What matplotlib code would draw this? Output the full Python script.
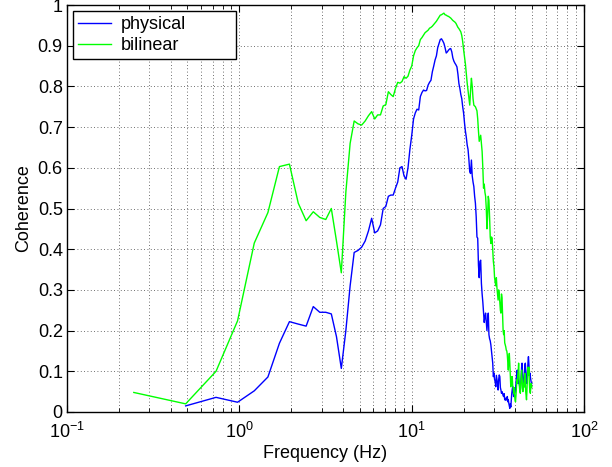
import numpy as np
from matplotlib import pyplot as plt

plt.rcParams['font.family'] = ['Liberation Sans', 'DejaVu Sans']
plt.rcParams['mathtext.fontset'] = 'custom'
plt.rcParams['mathtext.rm'] = 'Liberation Sans'

df = 0.244140625  # frequency resolution of the estimate (Hz)

# coherence, bilinear model: bins 1..204
bilinear = [
    0.048, 0.020, 0.100, 0.224, 0.415, 0.490, 0.603, 0.609, 0.513, 0.470,
    0.492, 0.478, 0.473, 0.500, 0.420, 0.342, 0.540, 0.660, 0.715, 0.708,
    0.705, 0.715, 0.728, 0.738, 0.720, 0.730, 0.730, 0.752, 0.755, 0.787,
    0.780, 0.775, 0.795, 0.810, 0.808, 0.812, 0.824, 0.820, 0.825, 0.840,
    0.850, 0.875, 0.888, 0.895, 0.900, 0.915, 0.920, 0.926, 0.932, 0.935,
    0.938, 0.943, 0.945, 0.948, 0.952, 0.956, 0.960, 0.965, 0.970, 0.975,
    0.976, 0.978, 0.980, 0.976, 0.975, 0.973, 0.972, 0.970, 0.968, 0.965,
    0.962, 0.960, 0.958, 0.955, 0.950, 0.945, 0.942, 0.938, 0.934, 0.925,
    0.910, 0.890, 0.873, 0.855, 0.830, 0.808, 0.790, 0.770, 0.754, 0.790,
    0.820, 0.800, 0.770, 0.754, 0.752, 0.750, 0.745, 0.740, 0.720, 0.690,
    0.665, 0.672, 0.680, 0.660, 0.640, 0.600, 0.550, 0.560, 0.540, 0.530,
    0.500, 0.450, 0.480, 0.530, 0.520, 0.480, 0.430, 0.414, 0.430, 0.427,
    0.400, 0.370, 0.357, 0.330, 0.320, 0.310, 0.330, 0.305, 0.290, 0.275,
    0.300, 0.290, 0.270, 0.250, 0.243, 0.290, 0.280, 0.240, 0.200, 0.190,
    0.200, 0.170, 0.165, 0.160, 0.152, 0.150, 0.140, 0.120, 0.103, 0.128,
    0.144, 0.120, 0.090, 0.062, 0.087, 0.070, 0.087, 0.065, 0.060, 0.045,
    0.060, 0.040, 0.030, 0.025, 0.040, 0.060, 0.079, 0.070, 0.090, 0.100,
    0.120, 0.090, 0.060, 0.050, 0.046, 0.070, 0.090, 0.103, 0.080, 0.060,
    0.050, 0.070, 0.060, 0.080, 0.090, 0.095, 0.070, 0.050, 0.040, 0.030,
    0.050, 0.080, 0.100, 0.110, 0.090, 0.110, 0.080, 0.060, 0.050, 0.046,
    0.060, 0.070, 0.060, 0.062,
]

# coherence, physical model: bins 2..204
physical = [
    0.015, 0.036, 0.024, 0.052, 0.086, 0.169, 0.222, 0.216, 0.211,
    0.259, 0.245, 0.245, 0.241, 0.185, 0.107, 0.200, 0.310, 0.392, 0.397,
    0.405, 0.420, 0.445, 0.476, 0.440, 0.445, 0.460, 0.500, 0.505, 0.530,
    0.533, 0.533, 0.550, 0.565, 0.600, 0.603, 0.580, 0.572, 0.600, 0.645,
    0.680, 0.720, 0.735, 0.744, 0.742, 0.775, 0.785, 0.791, 0.789, 0.790,
    0.803, 0.810, 0.815, 0.836, 0.850, 0.865, 0.875, 0.895, 0.905, 0.915,
    0.917, 0.912, 0.906, 0.895, 0.882, 0.885, 0.889, 0.892, 0.893, 0.885,
    0.870, 0.862, 0.857, 0.853, 0.848, 0.830, 0.807, 0.795, 0.780, 0.770,
    0.750, 0.734, 0.710, 0.690, 0.675, 0.656, 0.645, 0.620, 0.590, 0.586,
    0.619, 0.580, 0.565, 0.554, 0.530, 0.513, 0.480, 0.430, 0.427, 0.360,
    0.330, 0.370, 0.373, 0.316, 0.290, 0.270, 0.243, 0.220, 0.235, 0.243,
    0.220, 0.200, 0.225, 0.243, 0.190, 0.180, 0.175, 0.165, 0.150, 0.136,
    0.120, 0.087, 0.095, 0.080, 0.075, 0.062, 0.090, 0.079, 0.070, 0.054,
    0.080, 0.091, 0.087, 0.060, 0.054, 0.046, 0.050, 0.046, 0.040, 0.038,
    0.045, 0.030, 0.032, 0.029, 0.035, 0.030, 0.038, 0.025, 0.030, 0.021,
    0.015, 0.009, 0.020, 0.012, 0.030, 0.045, 0.055, 0.062, 0.050, 0.038,
    0.040, 0.045, 0.050, 0.054, 0.070, 0.085, 0.100, 0.103, 0.090, 0.080,
    0.070, 0.075, 0.065, 0.060, 0.054, 0.070, 0.090, 0.110, 0.120, 0.100,
    0.080, 0.070, 0.062, 0.080, 0.100, 0.115, 0.120, 0.100, 0.085, 0.075,
    0.070, 0.090, 0.110, 0.125, 0.136, 0.120, 0.100, 0.090, 0.095, 0.087,
    0.080, 0.075, 0.070, 0.070,
]

f_bil = df * np.arange(1, len(bilinear) + 1)
f_phy = df * np.arange(2, len(physical) + 2)

fs = 13

fig = plt.figure(figsize=(6.12, 4.67), dpi=100)
ax = fig.add_axes([67 / 612, 1 - 412 / 467, 517 / 612, 407 / 467])

ax.semilogx(f_phy, physical, color=(0, 0, 1), linewidth=1.0, label='physical')
ax.semilogx(f_bil, bilinear, color=(0, 1, 0), linewidth=1.0, label='bilinear')

ax.set_xlim(0.1, 100)
ax.set_ylim(0, 1)
ax.set_yticks(np.arange(0, 1.01, 0.1))
ax.set_yticklabels(['0', '0.1', '0.2', '0.3', '0.4', '0.5', '0.6', '0.7', '0.8', '0.9', '1'])

ax.grid(which='major', linestyle=(0, (1, 3)), linewidth=0.6, color='0.25')
ax.grid(which='minor', axis='x', linestyle=(0, (1, 3)), linewidth=0.6, color='0.25')
ax.tick_params(which='both', direction='in', top=True, right=True, labelsize=fs)
ax.tick_params(which='major', length=5)
ax.tick_params(which='minor', length=3)
ax.tick_params(axis='x', which='major', pad=7)
ax.tick_params(axis='y', which='major', pad=3)
for s in ax.spines.values():
    s.set_linewidth(1.0)

ax.set_xlabel('Frequency (Hz)', fontsize=fs, labelpad=2)
ax.set_ylabel('Coherence', fontsize=fs, labelpad=4)

# legend box: matlab style, wider than its content
leg = ax.legend(loc='upper left', bbox_to_anchor=(6 / 517, 1 - 53 / 407, 163 / 517, 47 / 407),
                mode='expand', fontsize=fs, fancybox=False, framealpha=1,
                edgecolor='k', borderaxespad=0, handlelength=1.8,
                handletextpad=0.55, borderpad=0.3, labelspacing=0.2)
leg.get_frame().set_linewidth(1.0)

fig.savefig('out.png', dpi=100)
